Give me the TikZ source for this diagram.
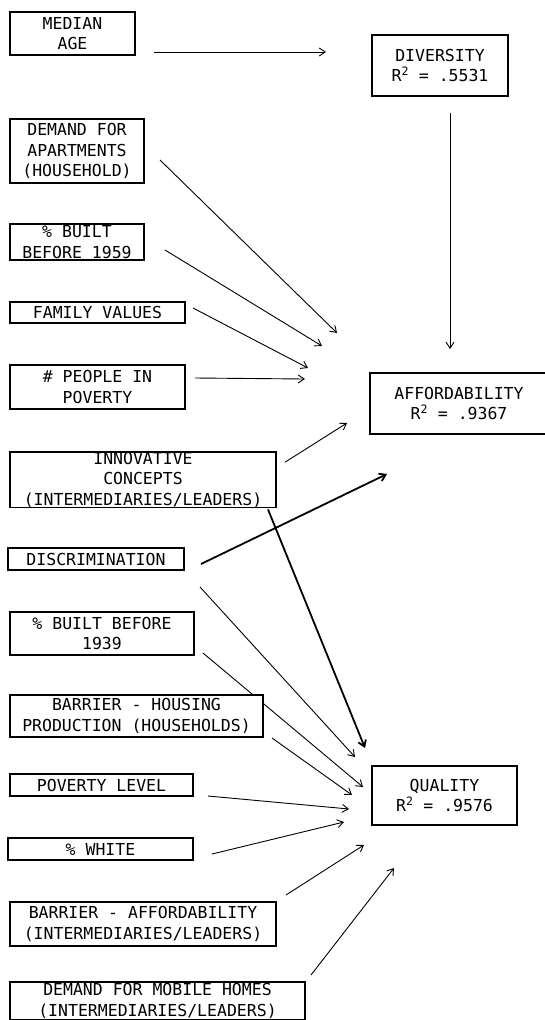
\documentclass[tikz,border=0pt]{standalone}
\usepackage{fontspec}
\setmonofont{DejaVu Sans Mono}
\usetikzlibrary{arrows.meta}
\pgfdeclarelayer{bg}
\pgfsetlayers{bg,main}
\newcommand\labfont{\ttfamily\fontsize{16.5}{20.5}\selectfont}

\tikzset{
  factor/.style={draw, line width=1.1pt, fill=white, anchor=north west,
    inner sep=0pt, outer sep=0pt, align=center, font=\labfont},
  link/.style={-{Straight Barb[length=6pt,width=8pt]}, line width=0.9pt},
  heavy/.style={link, line width=1.8pt},
}

\begin{document}
\begin{tikzpicture}[x=1pt, y=-1pt]
  \useasboundingbox (0,0) rectangle (544,1020);
  % outcome boxes
  \node[factor, minimum width=136pt, minimum height=61pt] (div) at (372,35) {DIVERSITY\\R\textsuperscript{2} = .5531};
  \node[factor, minimum width=178pt, minimum height=61pt] (aff) at (370,373) {AFFORDABILITY\\R\textsuperscript{2} = .9367};
  \node[factor, minimum width=145pt, minimum height=59pt] (qual) at (372,766) {QUALITY\\R\textsuperscript{2} = .9576};
  % predictors
  \node[factor, minimum width=125pt, minimum height=43pt] (age) at (10,12) {MEDIAN\\AGE};
  \node[factor, minimum width=134pt, minimum height=64pt] (apt) at (10,119) {DEMAND FOR\\APARTMENTS\\(HOUSEHOLD)};
  \node[factor, minimum width=134pt, minimum height=36pt] (b59) at (10,224) {\% BUILT\\BEFORE 1959};
  \node[factor, minimum width=175pt, minimum height=21pt] (fam) at (10,302) {FAMILY VALUES};
  \node[factor, minimum width=175pt, minimum height=44pt] (ppl) at (10,365) {\# PEOPLE IN\\POVERTY};
  \node[factor, minimum width=266pt, minimum height=55pt] (inn) at (10,452) {INNOVATIVE\\CONCEPTS\\(INTERMEDIARIES/LEADERS)};
  \node[factor, minimum width=176pt, minimum height=22pt] (dis) at (8,548) {DISCRIMINATION};
  \node[factor, minimum width=184pt, minimum height=43pt] (b39) at (10,612) {\% BUILT BEFORE\\1939};
  \node[factor, minimum width=253pt, minimum height=42pt] (bh) at (10,695) {BARRIER - HOUSING\\PRODUCTION (HOUSEHOLDS)};
  \node[factor, minimum width=183pt, minimum height=22pt] (pov) at (10,774) {POVERTY LEVEL};
  \node[factor, minimum width=185pt, minimum height=22pt] (wht) at (8,838) {\% WHITE};
  \node[factor, minimum width=266pt, minimum height=44pt] (ba) at (10,902) {BARRIER - AFFORDABILITY\\(INTERMEDIARIES/LEADERS)};
  \node[factor, minimum width=295pt, minimum height=38pt] (mob) at (10,982) {DEMAND FOR MOBILE HOMES\\(INTERMEDIARIES/LEADERS)};

  \begin{pgfonlayer}{bg}
    % paths to diversity and affordability
    \draw[link] ([shift={(19,18.5)}]age.east) -- ([shift={(-46,-13.5)}]div.west);
    \draw[link] ([shift={(10,17)}]div.south) -- ([shift={(-9,-24)}]aff.north);
    \draw[link] ([shift={(16,9)}]apt.east) -- ([shift={(-33,-70.5)}]aff.west);
    \draw[link] ([shift={(21,8)}]b59.east) -- ([shift={(-48,-57.5)}]aff.west);
    \draw[link] ([shift={(8,-4.5)}]fam.east) -- ([shift={(-62,-35.5)}]aff.west);
    \draw[link] ([shift={(10,-9)}]ppl.east) -- ([shift={(-65,-24.5)}]aff.west);
    \draw[link] ([shift={(9,-17.5)}]inn.east) -- ([shift={(-23,19.5)}]aff.west);
    \draw[heavy] ([shift={(17,5)}]dis.east) -- ([shift={(17,40)}]aff.south west);
    % paths to quality
    \draw[heavy] ([shift={(-8,2)}]inn.south east) -- ([shift={(-7,-18)}]qual.north west);
    \draw[link] ([shift={(16,28)}]dis.east) -- ([shift={(-17,-9)}]qual.north west);
    \draw[link] ([shift={(9,19.5)}]b39.east) -- ([shift={(-9,-8.5)}]qual.west);
    \draw[link] ([shift={(9,1)}]bh.south east) -- ([shift={(-20,-0.5)}]qual.west);
    \draw[link] ([shift={(15,11)}]pov.east) -- ([shift={(-23,13.5)}]qual.west);
    \draw[link] ([shift={(19,5)}]wht.east) -- ([shift={(-28,26.5)}]qual.west);
    \draw[link] ([shift={(10,-7)}]ba.north east) -- ([shift={(-8,20)}]qual.south west);
    \draw[link] ([shift={(6,-7)}]mob.north east) -- ([shift={(22,43)}]qual.south west);
  \end{pgfonlayer}
\end{tikzpicture}
\end{document}
